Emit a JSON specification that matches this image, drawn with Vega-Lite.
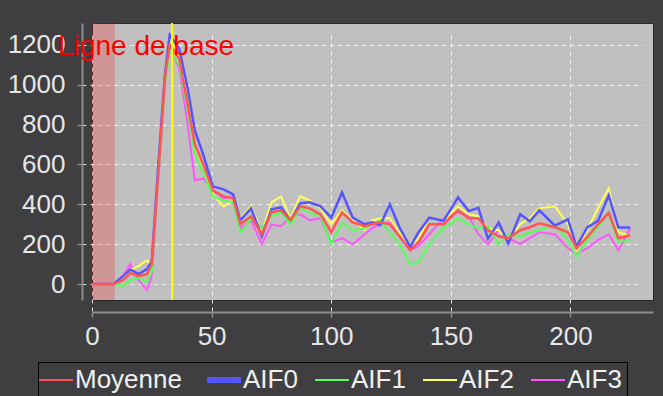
{
  "$schema": "https://vega.github.io/schema/vega-lite/v6.json",
  "width": 561,
  "height": 277,
  "autosize": {"type": "none"},
  "padding": {"left": 92, "top": 23, "right": 10, "bottom": 96},
  "background": "#3f3f42",
  "config": {
    "view": {"fill": "#c0c0c0", "stroke": "#2a2a2a", "strokeWidth": 1},
    "font": "Liberation Sans",
    "numberFormat": "d",
    "axis": {
      "domainColor": "#8c8c8c",
      "domainWidth": 2,
      "tickColor": "#8c8c8c",
      "tickSize": 5,
      "tickWidth": 1.5,
      "labelColor": "#e6e6e6",
      "labelFont": "Liberation Sans",
      "labelFontSize": 26,
      "labelFlush": false,
      "labelOverlap": false,
      "grid": true,
      "gridColor": "#ffffff",
      "gridDash": [4, 4],
      "gridWidth": 1,
      "gridOpacity": 0.85
    },
    "axisX": {"offset": 12, "tickCount": 5, "labelPadding": 6},
    "axisY": {"offset": 10, "tickCount": 7, "labelPadding": 12},
    "legend": {
      "orient": "none",
      "legendX": -54,
      "legendY": 339,
      "direction": "horizontal",
      "columns": 5,
      "symbolType": "stroke",
      "symbolSize": 1156,
      "symbolStrokeWidth": 2,
      "labelFont": "Liberation Sans",
      "labelFontSize": 26,
      "labelColor": "#f0f0f0",
      "fillColor": "#3f3f42",
      "strokeColor": "#000000",
      "padding": 5,
      "columnPadding": 13,
      "labelOffset": 6
    }
  },
  "datasets": {
    "curves": [
      {"t": 0, "Moyenne": 0, "AIF0": 0, "AIF1": 0, "AIF2": 0, "AIF3": 0},
      {"t": 4.5, "Moyenne": 0, "AIF0": 0, "AIF1": 0, "AIF2": 0, "AIF3": 0},
      {"t": 9, "Moyenne": 0, "AIF0": 0, "AIF1": 0, "AIF2": 0, "AIF3": 0},
      {"t": 13, "Moyenne": 20, "AIF0": 40, "AIF1": -10, "AIF2": 20, "AIF3": 40},
      {"t": 16, "Moyenne": 55, "AIF0": 73, "AIF1": 20, "AIF2": 70, "AIF3": 100},
      {"t": 19.5, "Moyenne": 40, "AIF0": 50, "AIF1": 30, "AIF2": 90, "AIF3": 20},
      {"t": 23, "Moyenne": 50, "AIF0": 75, "AIF1": 10, "AIF2": 120, "AIF3": -30},
      {"t": 25, "Moyenne": 100, "AIF0": 115, "AIF1": 60, "AIF2": 90, "AIF3": 40},
      {"t": 27.5, "Moyenne": 520, "AIF0": 560, "AIF1": 500, "AIF2": 540, "AIF3": 480},
      {"t": 30.5, "Moyenne": 1040, "AIF0": 1060, "AIF1": 1000, "AIF2": 1080, "AIF3": 1010},
      {"t": 32.5, "Moyenne": 1200, "AIF0": 1250, "AIF1": 1170, "AIF2": 1230, "AIF3": 1190},
      {"t": 36.5, "Moyenne": 1130, "AIF0": 1180, "AIF1": 1100, "AIF2": 1150, "AIF3": 1080},
      {"t": 40, "Moyenne": 900, "AIF0": 980, "AIF1": 870, "AIF2": 920, "AIF3": 800},
      {"t": 43, "Moyenne": 700, "AIF0": 770, "AIF1": 650, "AIF2": 690, "AIF3": 520},
      {"t": 46.5, "Moyenne": 600, "AIF0": 650, "AIF1": 560, "AIF2": 590, "AIF3": 530},
      {"t": 50.5, "Moyenne": 470, "AIF0": 490, "AIF1": 440, "AIF2": 450, "AIF3": 470},
      {"t": 55, "Moyenne": 440, "AIF0": 475, "AIF1": 420, "AIF2": 390, "AIF3": 430},
      {"t": 59, "Moyenne": 430, "AIF0": 450, "AIF1": 410, "AIF2": 420, "AIF3": 440},
      {"t": 62, "Moyenne": 300, "AIF0": 320, "AIF1": 260, "AIF2": 330, "AIF3": 280},
      {"t": 66.5, "Moyenne": 340, "AIF0": 380, "AIF1": 330, "AIF2": 390, "AIF3": 320},
      {"t": 71, "Moyenne": 250, "AIF0": 240, "AIF1": 280, "AIF2": 260, "AIF3": 200},
      {"t": 75, "Moyenne": 360, "AIF0": 375, "AIF1": 340, "AIF2": 410, "AIF3": 300},
      {"t": 79, "Moyenne": 370, "AIF0": 385, "AIF1": 360, "AIF2": 440, "AIF3": 290},
      {"t": 83, "Moyenne": 320, "AIF0": 320, "AIF1": 300, "AIF2": 330, "AIF3": 340},
      {"t": 87, "Moyenne": 390, "AIF0": 405, "AIF1": 380, "AIF2": 440, "AIF3": 350},
      {"t": 91, "Moyenne": 380, "AIF0": 410, "AIF1": 360, "AIF2": 420, "AIF3": 320},
      {"t": 95.5, "Moyenne": 350, "AIF0": 390, "AIF1": 340, "AIF2": 380, "AIF3": 330},
      {"t": 100, "Moyenne": 260, "AIF0": 333, "AIF1": 200, "AIF2": 300, "AIF3": 210},
      {"t": 104.5, "Moyenne": 360, "AIF0": 460, "AIF1": 310, "AIF2": 370, "AIF3": 230},
      {"t": 109, "Moyenne": 310, "AIF0": 333, "AIF1": 270, "AIF2": 320, "AIF3": 200},
      {"t": 114, "Moyenne": 290, "AIF0": 300, "AIF1": 280, "AIF2": 270, "AIF3": 250},
      {"t": 117, "Moyenne": 300, "AIF0": 310, "AIF1": 300, "AIF2": 320, "AIF3": 280},
      {"t": 120.5, "Moyenne": 310, "AIF0": 295, "AIF1": 320, "AIF2": 330, "AIF3": 300},
      {"t": 124.5, "Moyenne": 300, "AIF0": 400, "AIF1": 260, "AIF2": 330, "AIF3": 310},
      {"t": 128.5, "Moyenne": 240, "AIF0": 285, "AIF1": 200, "AIF2": 260, "AIF3": 240},
      {"t": 133, "Moyenne": 170, "AIF0": 185, "AIF1": 100, "AIF2": 190, "AIF3": 170},
      {"t": 136.5, "Moyenne": 210, "AIF0": 260, "AIF1": 110, "AIF2": 230, "AIF3": 190},
      {"t": 141, "Moyenne": 300, "AIF0": 333, "AIF1": 200, "AIF2": 330, "AIF3": 250},
      {"t": 147, "Moyenne": 300, "AIF0": 318, "AIF1": 280, "AIF2": 320, "AIF3": 330},
      {"t": 153, "Moyenne": 370, "AIF0": 435, "AIF1": 330, "AIF2": 390, "AIF3": 360},
      {"t": 157.5, "Moyenne": 330, "AIF0": 366, "AIF1": 300, "AIF2": 350, "AIF3": 340},
      {"t": 161.5, "Moyenne": 330, "AIF0": 382, "AIF1": 280, "AIF2": 340, "AIF3": 250},
      {"t": 165.5, "Moyenne": 270, "AIF0": 228, "AIF1": 290, "AIF2": 280, "AIF3": 200},
      {"t": 170, "Moyenne": 240, "AIF0": 309, "AIF1": 200, "AIF2": 270, "AIF3": 270},
      {"t": 174, "Moyenne": 230, "AIF0": 203, "AIF1": 250, "AIF2": 220, "AIF3": 230},
      {"t": 179, "Moyenne": 270, "AIF0": 350, "AIF1": 240, "AIF2": 300, "AIF3": 200},
      {"t": 183, "Moyenne": 285, "AIF0": 315, "AIF1": 260, "AIF2": 330, "AIF3": 230},
      {"t": 187, "Moyenne": 305, "AIF0": 370, "AIF1": 270, "AIF2": 380, "AIF3": 260},
      {"t": 193.5, "Moyenne": 285, "AIF0": 293, "AIF1": 300, "AIF2": 390, "AIF3": 250},
      {"t": 199, "Moyenne": 260, "AIF0": 325, "AIF1": 220, "AIF2": 300, "AIF3": 180},
      {"t": 202.5, "Moyenne": 180, "AIF0": 187, "AIF1": 140, "AIF2": 170, "AIF3": 150},
      {"t": 207, "Moyenne": 235, "AIF0": 284, "AIF1": 220, "AIF2": 270, "AIF3": 180},
      {"t": 211.5, "Moyenne": 300, "AIF0": 317, "AIF1": 290, "AIF2": 380, "AIF3": 220},
      {"t": 216, "Moyenne": 357, "AIF0": 445, "AIF1": 350, "AIF2": 480, "AIF3": 250},
      {"t": 220, "Moyenne": 230, "AIF0": 284, "AIF1": 210, "AIF2": 260, "AIF3": 170},
      {"t": 225, "Moyenne": 245, "AIF0": 284, "AIF1": 220, "AIF2": 240, "AIF3": 280}
    ],
    "band": [{"start": 0, "end": 9.5}],
    "marker": [{"pos": 33.5}],
    "note": [{"pos": 22.6, "level": 1190, "label": "Ligne de base"}]
  },
  "layer": [
    {
      "data": {"name": "band"},
      "mark": {"type": "rect", "color": "#ff0000", "opacity": 0.22},
      "encoding": {
        "x": {"field": "start", "type": "quantitative", "title": null, "scale": {"domain": [0, 234.5], "nice": false, "zero": false}},
        "x2": {"field": "end"}
      }
    },
    {
      "data": {"name": "curves"},
      "transform": [
        {"fold": ["AIF3", "AIF2", "AIF1"], "as": ["serie", "value"]}
      ],
      "mark": {"type": "line", "clip": true},
      "encoding": {
        "x": {"field": "t", "type": "quantitative", "title": null},
        "y": {"field": "value", "type": "quantitative", "title": null, "scale": {"domain": [-80, 1310], "nice": false, "zero": false}},
        "color": {
          "field": "serie",
          "type": "nominal",
          "scale": {"domain": ["Moyenne", "AIF0", "AIF1", "AIF2", "AIF3"], "range": ["#ff5555", "#5555ff", "#55ff55", "#ffff55", "#ff55ff"]},
          "legend": {
            "title": null,
            "encode": {"symbols": {"update": {"strokeWidth": {"signal": "datum.value === 'AIF0' ? 6 : 2"}}}}
          }
        },
        "strokeWidth": {"field": "serie", "type": "nominal", "legend": null, "scale": {"type": "ordinal", "domain": ["Moyenne", "AIF0", "AIF1", "AIF2", "AIF3"], "range": [2.5, 6, 2, 2, 2]}}
      }
    },
    {
      "data": {"name": "curves"},
      "transform": [
        {"fold": ["AIF0"], "as": ["serie", "value"]}
      ],
      "mark": {"type": "line", "clip": true},
      "encoding": {
        "x": {"field": "t", "type": "quantitative", "title": null},
        "y": {"field": "value", "type": "quantitative", "title": null},
        "color": {"field": "serie", "type": "nominal"},
        "strokeWidth": {"field": "serie", "type": "nominal", "legend": null}
      }
    },
    {
      "data": {"name": "curves"},
      "transform": [
        {"fold": ["Moyenne"], "as": ["serie", "value"]}
      ],
      "mark": {"type": "line", "clip": true},
      "encoding": {
        "x": {"field": "t", "type": "quantitative", "title": null},
        "y": {"field": "value", "type": "quantitative", "title": null},
        "color": {"field": "serie", "type": "nominal"},
        "strokeWidth": {"field": "serie", "type": "nominal", "legend": null}
      }
    },
    {
      "data": {"name": "marker"},
      "mark": {"type": "rule", "color": "#ffff00", "strokeWidth": 2},
      "encoding": {
        "x": {"field": "pos", "type": "quantitative", "title": null}
      }
    },
    {
      "data": {"name": "note"},
      "mark": {"type": "text", "color": "#ff0000", "font": "Liberation Sans", "fontSize": 28, "align": "center", "baseline": "middle"},
      "encoding": {
        "x": {"field": "pos", "type": "quantitative", "title": null},
        "y": {"field": "level", "type": "quantitative", "title": null},
        "text": {"field": "label"}
      }
    }
  ]
}
